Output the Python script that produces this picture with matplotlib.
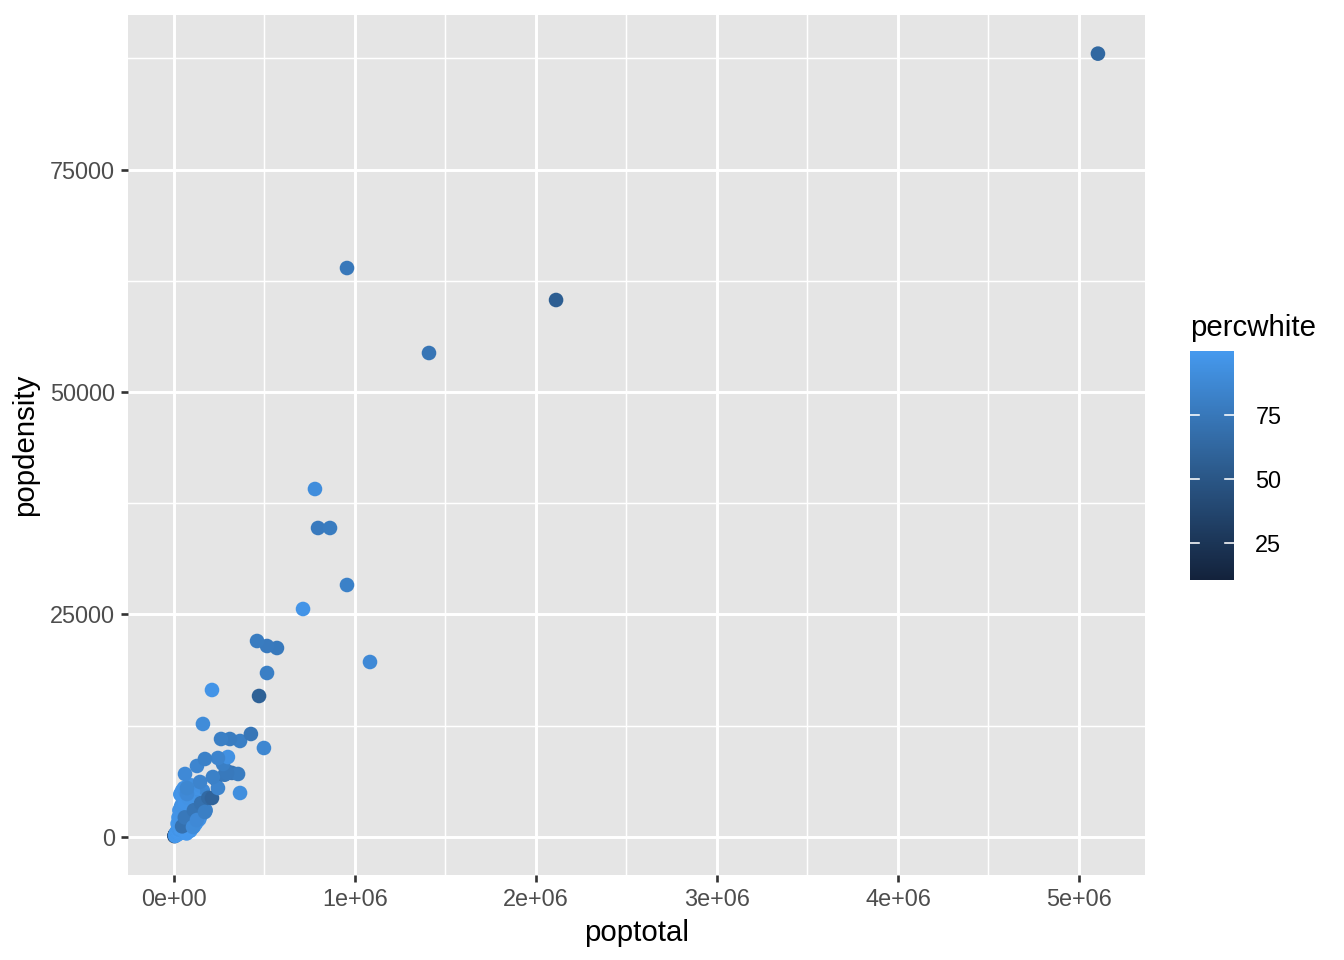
import numpy as np
import matplotlib
matplotlib.use("Agg")
import matplotlib.pyplot as plt
from matplotlib.colors import LinearSegmentedColormap

plt.rcParams['font.family'] = ['Liberation Sans', 'DejaVu Sans']

# county values (poptotal, popdensity, percwhite)
poptotal = [
    3900, 5500, 8000, 2500, 6000,
    6000, 9000, 13000, 15000, 19000, 23000, 27000, 31000, 35000, 39000,
    45000, 53000, 57000, 63000, 67000, 73000, 77000, 83000, 87000, 93000,
    97000, 108000, 112000, 118000, 128000, 138000,
    10500, 12000, 14000, 16000, 18000, 20000, 22000, 24000, 26000, 28000,
    30000, 32000, 34000, 36000, 38000, 40000, 42000, 44000, 46000, 48000,
    50000, 52000, 55000, 58000, 60000, 62000, 65000, 68000, 70000, 72000,
    75000, 78000, 80000, 82000, 85000, 88000, 90000, 92000, 95000, 98000,
    100000, 103000, 106000, 110000, 115000, 120000, 125000, 130000, 135000, 140000,
    145000, 150000, 155000, 160000, 165000, 170000, 175000,
    60000, 80000, 100000, 120000, 140000, 150000, 130000, 110000, 90000, 70000,
    20000, 25000, 30000, 40000, 50000, 35000, 45000, 55000, 65000, 75000,
    85000, 95000, 105000, 115000, 125000, 135000, 60000, 80000, 100000, 120000,
    45000, 60000, 110000, 150000, 190000, 230000, 280000, 300000, 320000,
    105000, 127000, 171000, 72000, 72000, 210000, 365000, 243000, 144000, 215000,
    354000, 293000, 271000, 298000, 243000, 61000, 127000, 171000, 497000, 365000,
    309000, 260000, 425000, 160000, 210000, 470000, 514000, 569000, 514000, 459000,
    1083000, 713000, 956000, 796000, 862000, 779000, 1409000, 956000, 2111000, 5105000,
]
popdensity = [
    150, 200, 250, 100, 300,
    120, 180, 230, 300, 260, 380, 450, 520, 480, 600,
    700, 850, 1000, 1150, 1300, 1500, 1600, 1850, 2000, 2200,
    2450, 2700, 3000, 2500, 2300, 3100,
    350, 400, 500, 600, 550, 700, 800, 650, 900, 1000,
    850, 1100, 1200, 950, 1300, 1400, 1250, 1500, 1650, 1450,
    1800, 1700, 1900, 2100, 2000, 2300, 2500, 2400, 2700, 2900,
    2600, 3100, 3300, 3000, 3500, 3700, 3400, 3900, 4100, 3800,
    4300, 4500, 4000, 4700, 3600, 4200, 3300, 2900, 3800, 4400,
    3500, 4800, 4000, 5200, 3200, 4600, 3000,
    500, 800, 1000, 1500, 2000, 2500, 1800, 1200, 700, 400,
    1500, 2200, 3000, 3500, 4200, 4800, 5200, 5500, 5000, 4600,
    5300, 5800, 5100, 4300, 3900, 3400, 3800, 4400, 2600, 2100,
    1200, 2200, 3000, 3800, 4400, 6500, 7000, 7300, 7200,
    1124, 1910, 2809, 4831, 5506, 4382, 4944, 5506, 6180, 6742,
    7079, 7191, 8202, 8988, 8876, 7079, 7978, 8764, 10000, 10787,
    11011, 11011, 11573, 12700, 16517, 15843, 18427, 21236, 21460, 22022,
    19663, 25618, 28315, 34720, 34720, 39100, 54382, 63930, 60337, 88018,
]
percwhite = [
    10.7, 25, 40, 35, 55,
    98, 99, 99, 98, 99, 98, 99, 98, 99, 98,
    97, 98, 97, 98, 96, 97, 98, 96, 97, 95,
    96, 94, 95, 96, 94, 93,
    98, 99, 98, 97, 99, 98, 97, 99, 96, 98,
    97, 95, 98, 99, 97, 96, 98, 95, 97, 98,
    94, 96, 97, 93, 95, 96, 92, 94, 95, 91,
    96, 93, 90, 95, 92, 94, 89, 93, 91, 95,
    90, 92, 88, 93, 94, 90, 91, 92, 88, 90,
    87, 89, 85, 88, 90, 86, 83,
    98, 97, 96, 95, 94, 93, 96, 97, 98, 99,
    98, 97, 96, 95, 94, 97, 96, 95, 94, 97,
    93, 92, 94, 95, 93, 92, 96, 95, 96, 95,
    70, 75, 72, 70, 65, 72, 75, 70, 73,
    90, 88, 80, 88, 86, 60, 92, 84, 84, 82,
    78, 76, 80, 94, 84, 88, 85, 82, 86, 80,
    78, 80, 74, 90, 96, 58, 80, 76, 77, 78,
    88, 96, 82, 77, 78, 91, 73, 75, 56, 63,
]

# ggplot default continuous gradient, as it shows in the reference
cmap = LinearSegmentedColormap.from_list('gg', ['#13223B', '#2D5D90', '#4599EE'])
vmin, vmax = 10.69, 99.82

fig = plt.figure(figsize=(7, 5), dpi=192)
ax = fig.add_axes([128/1344, 1 - 875/960, (1145 - 128)/1344, (875 - 15)/960])
ax.set_facecolor('#E5E5E5')

sc = ax.scatter(poptotal, popdensity, c=percwhite, cmap=cmap, vmin=vmin, vmax=vmax,
                s=30, linewidths=0, zorder=3)

ax.set_xlim(-254000, 5365000)
ax.set_ylim(-4270, 92360)

xt = [0, 1e6, 2e6, 3e6, 4e6, 5e6]
yt = [0, 25000, 50000, 75000]
ax.set_xticks(xt)
ax.set_xticklabels(['0e+00', '1e+06', '2e+06', '3e+06', '4e+06', '5e+06'])
ax.set_yticks(yt)
ax.set_yticklabels(['0', '25000', '50000', '75000'])
ax.set_xticks([0.5e6, 1.5e6, 2.5e6, 3.5e6, 4.5e6], minor=True)
ax.set_yticks([12500, 37500, 62500, 87500], minor=True)

ax.grid(which='major', color='white', linewidth=1.1, zorder=1)
ax.grid(which='minor', color='white', linewidth=0.55, zorder=1)
ax.set_axisbelow(True)
for sp in ax.spines.values():
    sp.set_visible(False)
ax.tick_params(which='major', length=2.75, width=1.0, color='#333333',
               labelsize=8.8, labelcolor='#4D4D4D', pad=2.2)
ax.tick_params(which='minor', length=0)

ax.set_xlabel('poptotal', fontsize=11, labelpad=3)
ax.set_ylabel('popdensity', fontsize=11, labelpad=4)

# colourbar legend
cax = fig.add_axes([1190/1344, 1 - 580/960, 44/1344, 229/960])
cb = fig.colorbar(sc, cax=cax)
cb.outline.set_visible(False)
cb.set_ticks([25, 50, 75])
cax.tick_params(length=0, labelsize=8.8, labelcolor='black', pad=8)
tr = cax.get_yaxis_transform()
for t in [25, 50, 75]:
    cax.plot([0, 0.2], [t, t], color='white', linewidth=0.6, transform=tr)
    cax.plot([0.8, 1], [t, t], color='white', linewidth=0.6, transform=tr)
fig.text(1190/1344, 1 - 336/960, 'percwhite', fontsize=11, va='baseline', ha='left')

fig.savefig('out.png', dpi=192)
